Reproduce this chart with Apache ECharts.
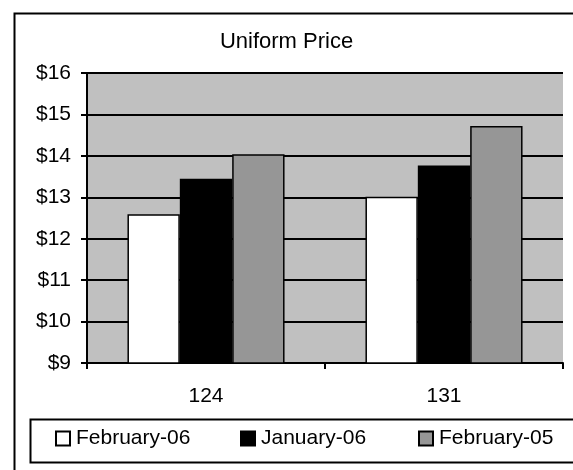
<!DOCTYPE html>
<html>
<head>
<meta charset="utf-8">
<script src="https://cdn.jsdelivr.net/npm/echarts@6/dist/echarts.min.js"></script>
<style>
html,body{margin:0;padding:0;background:#fff;}
#chart{width:573px;height:470px;}
</style>
</head>
<body>
<div id="chart"></div>
<script>
var categories = ['124', '131'];
var seriesNames = ['February-06', 'January-06', 'February-05'];
var feb06 = [12.59, 13.01];
var jan06 = [13.45, 13.77];
var feb05 = [14.04, 14.72];
var yMin = 9, yMax = 16, yStep = 1;

var FONT = '"Liberation Sans", Arial, sans-serif';
var colors = ['#FFFFFF', '#000000', '#969696'];
var values = [feb06, jan06, feb05];

var chart = echarts.init(document.getElementById('chart'), null, {renderer: 'canvas'});

var legendLefts = [55, 240, 418];
var legends = seriesNames.map(function (n, i) {
  return {
    data: [{name: n, icon: 'rect'}],
    left: legendLefts[i],
    top: 428,
    padding: 0,
    itemWidth: 14,
    itemHeight: 14,
    itemGap: 0,
    selectedMode: false,
    textStyle: {fontFamily: FONT, fontSize: 21, color: '#000', padding: [0,0,0,1]},
    itemStyle: {borderColor: '#000', borderWidth: 2}
  };
});

var option = {
  animation: false,
  backgroundColor: '#fff',
  title: {
    text: 'Uniform Price',
    left: 'center',
    top: 31,
    padding: 0,
    textStyle: {fontFamily: FONT, fontSize: 22, fontWeight: 'normal', color: '#000'}
  },
  legend: legends,
  grid: {
    left: 87, right: 10, top: 73, bottom: 107,
    show: true, backgroundColor: '#C0C0C0', borderWidth: 0,
    containLabel: false
  },
  xAxis: {
    type: 'category',
    data: categories,
    axisLine: {lineStyle: {color: '#000', width: 2}},
    axisTick: {show: true, length: 6, lineStyle: {color: '#000', width: 2}},
    axisLabel: {fontFamily: FONT, fontSize: 21, color: '#000', margin: 23}
  },
  yAxis: {
    type: 'value',
    min: yMin, max: yMax, interval: yStep,
    axisLine: {show: true, lineStyle: {color: '#000', width: 2}},
    axisTick: {show: true, length: 6, lineStyle: {color: '#000', width: 2}},
    splitLine: {show: true, lineStyle: {color: '#000', width: 2}},
    axisLabel: {fontFamily: FONT, fontSize: 21, color: '#000', margin: 16,
      formatter: function (v) { return '$' + v; }}
  },
  series: seriesNames.map(function (n, i) {
    return {
      name: n,
      type: 'bar',
      data: values[i],
      barGap: '0%',
      barCategoryGap: '34%',
      itemStyle: {color: colors[i], borderColor: '#000', borderWidth: 1.5}
    };
  }),
  graphic: [
    {type: 'rect', left: 12, top: 11, shape: {x: 0, y: 0, width: 700, height: 600},
      style: {fill: 'none', stroke: '#000', lineWidth: 2}, silent: true, z: 100},
    {type: 'rect', left: 28, top: 417, shape: {x: 0, y: 0, width: 700, height: 43},
      style: {fill: 'none', stroke: '#000', lineWidth: 2}, silent: true, z: 100}
  ]
};
chart.setOption(option);
</script>
</body>
</html>
